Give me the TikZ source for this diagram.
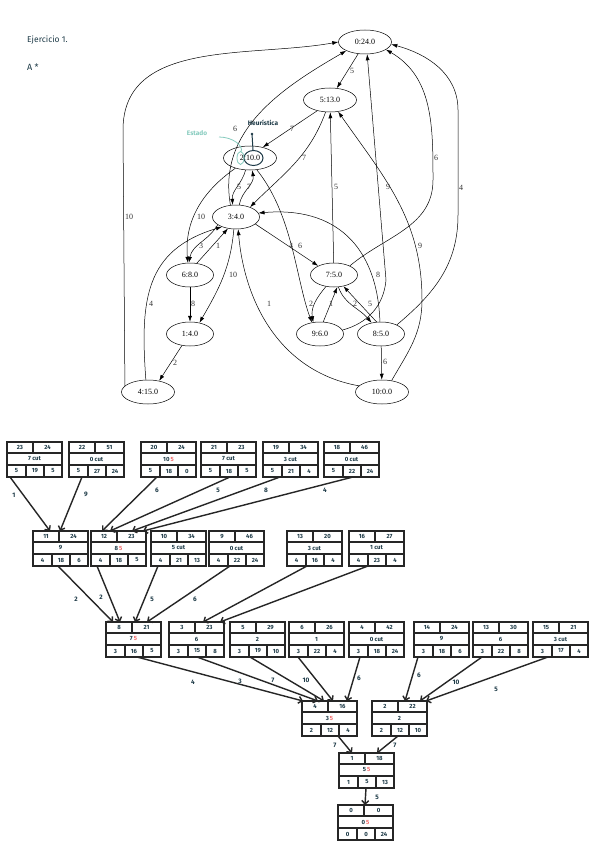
\documentclass[tikz,border=0pt]{standalone}
\usepackage{fontspec}
\setmainfont{Liberation Serif}
\newfontfamily\mano{Fira Sans}
\usetikzlibrary{shapes.geometric,arrows.meta}

\definecolor{tinta}{HTML}{1D3A47}
\definecolor{verdeagua}{HTML}{86CBBE}
\definecolor{rojo}{HTML}{F26B6B}
\definecolor{borde}{HTML}{262626}

\newcommand{\rojo}[1]{\,\textcolor{rojo}{#1}}
% caja del arbol: nombre, x, y, orden, f, nodo, prof, g, h
\newcommand{\celda}[9]{%
  \node[caja] (#1) at (#2,-#3) {};
  \begin{scope}[shift={(#2,-#3)}]
    \draw[rejilla] (0,-11) -- (55,-11) (0,-23) -- (55,-23)
      (26,0) -- (26,-11) (19,-23) -- (19,-35) (37,-23) -- (37,-35);
    \node[letra] (#1a) at (13,-5.5) {#4};
    \node[letra] (#1b) at (40.5,-5.5) {#5};
    \node[letra] (#1c) at (27.5,-17) {#6};
    \node[letra] (#1d) at (9.5,-29) {#7};
    \node[letra] (#1e) at (28,-29) {#8};
    \node[letra] (#1f) at (46,-29) {#9};
  \end{scope}}

\begin{document}
\begin{tikzpicture}[x=1pt,y=1pt,
    estado/.style={ellipse,draw,line width=0.5pt,minimum width=47pt,minimum height=24pt,inner sep=0pt,font=\fontsize{8}{9}\selectfont},
    largo/.style={minimum width=53pt},
    grafo/.style={-{Latex[length=6pt,width=4pt]},line width=0.5pt},
    peso/.style={font=\fontsize{8}{9}\selectfont,inner sep=0pt,text=black!80},
    caja/.style={draw=borde,line width=1.9pt,minimum width=55pt,minimum height=35pt,anchor=north west,inner sep=0pt,outer sep=0pt},
    rejilla/.style={draw=borde,line width=1.6pt},
    letra/.style={font=\mano\bfseries\fontsize{6}{7}\selectfont,text=tinta,inner sep=0pt},
    flecha/.style={-{Straight Barb[length=3.5pt,width=7pt]},draw=borde,line width=1.4pt},
    nota/.style={font=\mano\bfseries\fontsize{6.5}{7}\selectfont,text=tinta,inner sep=0pt}]

  \useasboundingbox (0,0) rectangle (600,-848);
  \fill[white] (0,0) rectangle (600,-848);

  % enunciado
  \node[nota,anchor=west,font=\mano\fontsize{8.5}{9}\selectfont] (ej) at (27,-40) {Ejercicio 1.};
  \node[nota,anchor=west,font=\mano\fontsize{9}{9}\selectfont] (astar) at (27,-67) {A *};

  % grafo
  \node[estado,largo] (n0) at (365,-42) {0:24.0};
  \node[estado,largo] (n5) at (330,-100) {5:13.0};
  \node[estado,largo] (n2) at (250,-158) {2:10.0};
  \node[estado] (n3) at (236,-217) {3:4.0};
  \node[estado] (n6) at (190,-275) {6:8.0};
  \node[estado] (n1) at (190,-334) {1:4.0};
  \node[estado,largo] (n4) at (148,-392) {4:15.0};
  \node[estado] (n7) at (334,-275) {7:5.0};
  \node[estado] (n9) at (320,-334) {9:6.0};
  \node[estado] (n8) at (381,-334) {8:5.0};
  \node[estado,largo] (n10) at (382,-392) {10:0.0};

  \draw[grafo] (n0.240) -- (n5.60);
  \draw[grafo] (n5.220) -- (n2.40);
  \draw[grafo] (n5.250) to[out=250,in=45] (n3.35);
  \draw[grafo] (n2.250) to[out=255,in=95] (n3.105);
  \draw[grafo] (n3.75) to[out=80,in=280] (n2.280);
  \draw[grafo] (n3.115) to[out=100,in=210] (n0.205);
  \draw[grafo] (n4.165) -- (123,-130) to[out=90,in=190] (n0.west);
  \draw[grafo] (n2.215) to[out=215,in=95] (n6.100);
  \draw[grafo] (n3.203) to[out=240,in=80] (n6.95);
  \draw[grafo] (n6.60) -- (n3.235);
  \draw[grafo] (n3.260) to[out=265,in=60] (n1.50);
  \draw[grafo] (n6) -- (n1);
  \draw[grafo] (n1.235) -- (n4.45);
  \draw[grafo] (n4.100) .. controls (140,-300) and (145,-250) .. (n3.215);
  \draw[grafo] (n3.340) -- (n7.150);
  \draw[grafo] (n2.300) .. controls (293,-215) and (296,-280) .. (n9.125);
  \draw[grafo] (n7) -- (n5);
  \draw[grafo] (n9.10) to[out=15,in=265] (386,-280) -- (n0.280);
  \draw[grafo] (n10.50) to[out=60,in=270] (422,-300) to[out=90,in=-55] (n5.305);
  \draw[grafo] (n7.30) to[out=40,in=270] (433,-180) to[out=90,in=-30] (n0.340);
  \draw[grafo] (n8.30) to[out=40,in=270] (458,-215) -- (458,-110) to[out=90,in=-15] (n0.355);
  \draw[grafo] (n8.95) to[out=92,in=5,looseness=1.2] (n3.10);
  \draw[grafo] (n7.235) to[out=230,in=100] (n9.120);
  \draw[grafo] (n9.75) -- (n7.285);
  \draw[grafo] (n7.290) to[out=290,in=130] (n8.130);
  \draw[grafo] (n8.110) -- (n7.310);
  \draw[grafo] (n8) -- (n10);
  \draw[grafo] (n10.165) to[out=170,in=275] (n3.280);

  \foreach \x/\y/\t [count=\i] in {352/71/5, 292/129/7, 304/158/7, 239/187/5, 249/187/7,
      235/129/6, 129/217/10, 201/217/10, 201/246/3, 218/246/1, 233/275/10, 193/304/8,
      175/363/2, 151/304/4, 291/246/4, 300/246/6, 336/187/5, 388/187/9, 420/246/9,
      436/158/6, 461/188/4, 378/275/8, 311/304/2, 331/304/1, 355/304/2, 370/304/5,
      385/362/6, 269/304/1}
    \node[peso] (w\i) at (\x,-\y) {\t};

  % notas a mano
  \node[nota] (heur) at (263,-123) {Heurística};
  \fill[tinta] (252,-134) circle (1.4);
  \draw[tinta,line width=1pt] (252,-134) -- (253,-150);
  \draw[tinta,line width=1pt] (253.5,-158) ellipse (9.5 and 7.5);
  \node[nota,text=verdeagua] (estado) at (197,-133) {Estado};
  \draw[verdeagua,line width=0.8pt] (219,-137) .. controls (233,-137) and (244,-146) .. (241,-152);
  \draw[verdeagua,line width=0.8pt] (240.5,-158) ellipse (3.5 and 6.5);

  % arbol de busqueda
  \celda{b1}{7}{442}{23}{24}{7 cut}{5}{19}{5}
  \celda{b2}{69}{442}{22}{51}{0 cut}{5}{27}{24}
  \celda{b3}{141}{442}{20}{24}{10\rojo{5}}{5}{18}{0}
  \celda{b4}{201}{442}{21}{23}{7 cut}{5}{18}{5}
  \celda{b5}{263}{442}{19}{34}{3 cut}{5}{21}{4}
  \celda{b6}{324}{442}{18}{46}{0 cut}{5}{22}{24}

  \celda{c1}{33}{531}{11}{24}{9}{4}{18}{6}
  \celda{c2}{91}{531}{12}{23}{8\rojo{5}}{4}{18}{5}
  \celda{c3}{151}{531}{10}{34}{5 cut}{4}{21}{13}
  \celda{c4}{209}{531}{9}{46}{0 cut}{4}{22}{24}
  \celda{c5}{287}{531}{13}{20}{3 cut}{4}{16}{4}
  \celda{c6}{349}{531}{16}{27}{1 cut}{4}{23}{4}

  \celda{d1}{106}{622}{8}{21}{7\rojo{5}}{3}{16}{5}
  \celda{d2}{169}{622}{3}{23}{6}{3}{15}{8}
  \celda{d3}{230}{622}{5}{29}{2}{3}{19}{10}
  \celda{d4}{289}{622}{6}{26}{1}{3}{22}{4}
  \celda{d5}{349}{622}{4}{42}{0 cut}{3}{18}{24}
  \celda{d6}{414}{622}{14}{24}{9}{3}{18}{6}
  \celda{d7}{473}{622}{13}{30}{6}{3}{22}{8}
  \celda{d8}{533}{622}{15}{21}{3 cut}{3}{17}{4}

  \celda{e1}{302}{701}{4}{16}{3\rojo{5}}{2}{12}{4}
  \celda{e2}{372}{701}{2}{22}{2}{2}{12}{10}

  \celda{f1}{339}{753}{1}{18}{5\rojo{5}}{1}{5}{13}
  \celda{g}{338}{805}{0}{0}{0\rojo{5}}{0}{0}{24}

  \foreach \a/\oa/\b/\ob in {b1/3/c1/17, b2/13/c1/27, b3/16/c2/11, b4/29/c2/19,
      b5/17/c2/41, b6/29/c2/52, c1/25/d1/7, c2/6/d1/14, c3/7/d1/29, c4/21/d1/41,
      c5/20/d2/34, c6/19/d2/51, d1/31/e1/1, d2/28/e1/16, d3/20/e1/22, d4/9/e1/31,
      d5/11/e1/45, d6/4/e2/33, d7/9/e2/48, d8/15/e2/54, e1/36/f1/13, e2/26/f1/38,
      f1/27/g/27}
    \draw[flecha] ([xshift=\oa pt]\a.south west) -- ([xshift=\ob pt]\b.north west);

  \foreach \x/\y/\t [count=\i] in {14/495/1, 86/494/9, 157/490/6, 218/490/5, 266/490/8,
      325/490/4, 76/599/2, 101/597/2, 152/599/5, 195/599/6, 193/682/4, 240/681/3,
      273/680/7, 306/680/10, 359/678/6, 419/675/6, 456/682/10, 496/689/5,
      335/745/7, 395/745/7, 377/797/5}
    \node[nota] (t\i) at (\x,-\y) {\t};
\end{tikzpicture}
\end{document}
